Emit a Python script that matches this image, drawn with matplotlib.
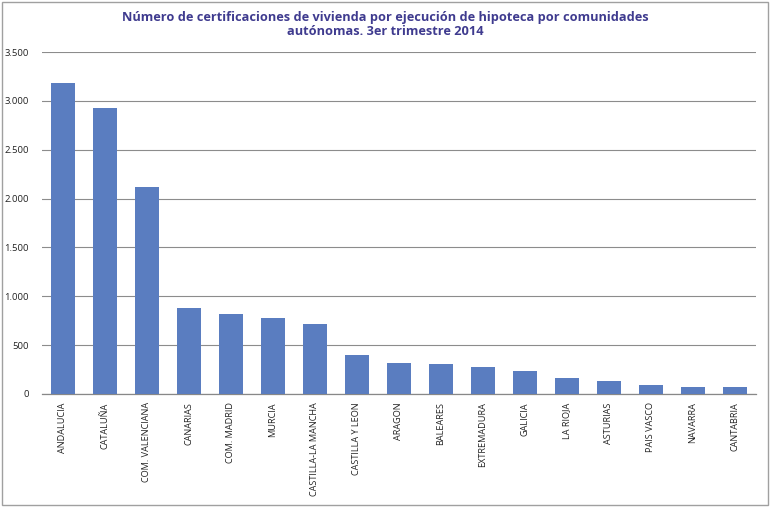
import matplotlib.pyplot as plt
from matplotlib.ticker import FuncFormatter
from matplotlib.patches import Rectangle

plt.rcParams['font.family'] = ['Open Sans', 'DejaVu Sans']

regiones = ['ANDALUCIA', 'CATALUÑA', 'COM. VALENCIANA', 'CANARIAS', 'COM. MADRID',
            'MURCIA', 'CASTILLA-LA MANCHA', 'CASTILLA Y LEON', 'ARAGON', 'BALEARES',
            'EXTREMADURA', 'GALICIA', 'LA RIOJA', 'ASTURIAS', 'PAIS VASCO',
            'NAVARRA', 'CANTABRIA']
certificaciones = [3180, 2925, 2115, 880, 815, 778, 716, 395, 322, 312,
                   272, 240, 160, 137, 88, 72, 72]
yticks = [0, 500, 1000, 1500, 2000, 2500, 3000, 3500]

C_BAR = '#5A7DC0'
C_TITLE = '#3F3B8F'

fig = plt.figure(figsize=(7.7, 5.07), dpi=100)
ax = fig.add_axes([0.054, 0.2229, 0.9275, 0.6745])

x = range(len(regiones))
ax.bar(x, certificaciones, width=0.57, color=C_BAR, zorder=3)
ax.set_xlim(-0.5, len(regiones) - 0.5)
ax.set_ylim(0, 3500)
ax.set_yticks(yticks)
ax.yaxis.set_major_formatter(FuncFormatter(lambda v, p: f'{int(v):,}'.replace(',', '.')))
ax.grid(axis='y', color='#8c8c8c', lw=0.8, zorder=0)
ax.set_xticks(list(x))
ax.set_xticklabels(regiones, rotation=90, fontsize=6.6, color='#222222')
ax.tick_params(axis='y', length=0, labelsize=6.8, labelcolor='#222222', pad=9)
ax.tick_params(axis='x', length=0, pad=6)
for s in ['top', 'right', 'left']:
    ax.spines[s].set_visible(False)
ax.spines['bottom'].set_color('#888888')
ax.spines['bottom'].set_linewidth(0.9)

fig.text(0.5, 0.978, 'Número de certificaciones de vivienda por ejecución de hipoteca por comunidades\nautónomas. 3er trimestre 2014',
         ha='center', va='top', fontsize=9.2, fontweight='bold', color=C_TITLE, linespacing=1.05)

fig.patches.append(Rectangle((0.002, 0.004), 0.995, 0.992, transform=fig.transFigure,
                             fill=False, edgecolor='#a0a0a0', lw=1.0))

fig.savefig('out.png', dpi=100)
